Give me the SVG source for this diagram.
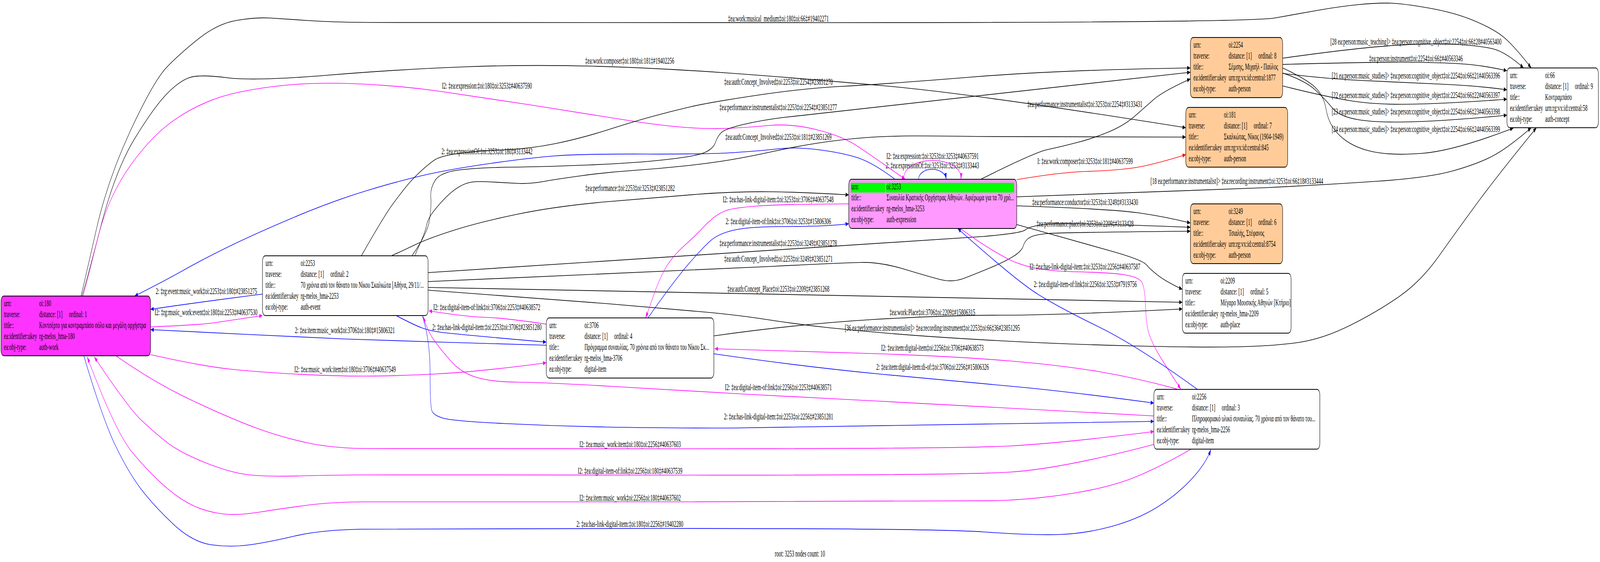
<svg xmlns="http://www.w3.org/2000/svg" width="7961" height="1439" viewBox="0 0 7961 1439" preserveAspectRatio="none" style="width:100vw;height:100vh">
<style>
text{font-family:"Liberation Serif","Times New Roman",serif;font-size:23.33px;fill:#000}
.c{text-anchor:middle}
.nb{stroke:#000;stroke-width:2}
.e{fill:none;stroke-width:1.7}
.k{stroke:#000;marker-end:url(#ak)}
.b{stroke:#0000ff;marker-end:url(#ab)}
.m{stroke:#ff00ff;marker-end:url(#am)}
.r{stroke:#ff0000;marker-end:url(#ar)}
.w{fill:#ffffff}.p1{fill:#ff33ff}.p2{fill:#ff99ff}.o{fill:#ffcc99}.g{fill:#00ff00}
</style>
<defs>
<marker id="ak" viewBox="0 0 16 11" refX="16" refY="5.5" markerWidth="16" markerHeight="11" markerUnits="userSpaceOnUse" orient="auto"><path d="M0,0 L16,5.5 L0,11 z" fill="#000"/></marker>
<marker id="ab" viewBox="0 0 16 11" refX="16" refY="5.5" markerWidth="16" markerHeight="11" markerUnits="userSpaceOnUse" orient="auto"><path d="M0,0 L16,5.5 L0,11 z" fill="#0000ff"/></marker>
<marker id="am" viewBox="0 0 16 11" refX="16" refY="5.5" markerWidth="16" markerHeight="11" markerUnits="userSpaceOnUse" orient="auto"><path d="M0,0 L16,5.5 L0,11 z" fill="#ff00ff"/></marker>
<marker id="ar" viewBox="0 0 16 11" refX="16" refY="5.5" markerWidth="16" markerHeight="11" markerUnits="userSpaceOnUse" orient="auto"><path d="M0,0 L16,5.5 L0,11 z" fill="#ff0000"/></marker>
</defs>
<rect x="0" y="0" width="7961" height="1439" fill="#ffffff"/>
<g id="edges">
<g id="e1"><path class="e k" d="M403,758 Q421,720 478.5,589.5 Q536,459 650.5,333 Q765,207 829,172.5 Q893,138 988.5,99 Q1084,60 1180,52 Q1276,44 1339.5,46 Q1403,48 1530.5,52.5 Q1658,57 1829,57.5 Q2000,58 4108,58 Q6216,58 6343.5,46 Q6471,34 6573,25 Q6675,16 6764.5,11.5 Q6854,7 6917.5,8 Q6981,9 7108.5,20.5 Q7236,32 7332,52.5 Q7428,73 7479,94 Q7530,115 7619,174"/><text class="c" x="3873" y="55">‡ea:work:musical_medium‡oi:180‡oi:66‡#19402271</text></g>
<g id="e2"><path class="e k" d="M408,758 Q431,720 502.5,578 Q574,436 669.5,355.5 Q765,275 829,241 Q893,207 944,198.5 Q995,190 1129,199 Q1263,208 1631.5,192.5 Q2000,177 2319,171 Q2638,165 2957,169.5 Q3276,174 3638,187.5 Q4000,201 4427.5,221 Q4855,241 5900,327"/><text class="c" x="3133" y="163">‡ea:work:composer‡oi:180‡oi:181‡#19402256</text></g>
<g id="e3"><path class="e m" d="M413,758 Q434,720 485,612.5 Q536,505 650.5,422.5 Q765,340 892.5,298.5 Q1020,257 1148,241 Q1276,225 1435,217.5 Q1594,210 1797,215 Q2000,220 2191.5,234 Q2383,248 2638,268.5 Q2893,289 3084.5,305 Q3276,321 3403.5,326 Q3531,331 3630.5,328.5 Q3730,326 3833,321 Q3936,316 4062.5,332 Q4189,348 4265.5,374 Q4342,400 4504,459"/><text class="c" x="2423" y="227">I2: ‡ea:expression:‡oi:180‡oi:3253‡#40637590</text></g>
<g id="e4"><path class="e m" d="M749,837 Q1000,832 1071.5,826 Q1143,820 1306,808"/><text class="c" x="1025" y="807">I2: ‡rg:music_work:event‡oi:180‡oi:2253‡#40637530</text></g>
<g id="e5"><path class="e m" d="M749,908 Q1000,937 1143.5,945 Q1287,953 1478.5,958 Q1670,963 1813.5,963 Q1957,963 2170,957.5 Q2383,952 2718,929"/><text class="c" x="1717" y="953">I2: ‡ea:music_work:item‡oi:180‡oi:3706‡#40637549</text></g>
<g id="e6"><path class="e m" d="M577,911 Q765,979 956.5,1025.5 Q1148,1072 1275.5,1096 Q1403,1120 1530.5,1134 Q1658,1148 1829,1148.5 Q2000,1149 3382.5,1149 Q4765,1149 5020.5,1142 Q5276,1135 5741,1105"/><text class="c" x="3135" y="1145">I2: ‡ea:music_work:item‡oi:180‡oi:2256‡#40637603</text></g>
<g id="e7"><path class="e b" d="M417,911 Q510,1072 574,1140.5 Q638,1209 701.5,1252 Q765,1295 861,1341.5 Q957,1388 1052.5,1395 Q1148,1402 1243.5,1395 Q1339,1388 1466.5,1372.5 Q1594,1357 1797,1355 Q2000,1353 3319,1353 Q4638,1353 4893,1362 Q5148,1371 5275.5,1368.5 Q5403,1366 5530.5,1348 Q5658,1330 5753.5,1300 Q5849,1270 5924.5,1229 Q6000,1188 6025,1151"/><text class="c" x="3134" y="1349">2: ‡ea:has-link-digital-item:‡oi:180‡oi:2256‡#19402280</text></g>
<g id="e8"><path class="e b" d="M4453,459 Q4342,416 4265.5,403.5 Q4189,391 4074,383.5 Q3959,376 3872.5,381 Q3786,386 3658.5,390.5 Q3531,395 3212,394.5 Q2893,394 2765.5,399 Q2638,404 2446.5,418 Q2255,432 2127.5,446.5 Q2000,461 1829,487.5 Q1658,514 1467,555.5 Q1276,597 1148,629 Q1020,661 918,690.5 Q816,720 670,758"/><text class="c" x="2423" y="395">2: ‡ea:expressionOf:‡oi:3253‡oi:180‡#3133442</text></g>
<g id="e9"><path class="e b" d="M1306,753 Q1000,773 749,792"/><text class="c" x="1027" y="753">2: ‡rg:event:music_work‡oi:2253‡oi:180‡#23851275</text></g>
<g id="e10"><path class="e b" d="M2718,884 Q2500,880 2228.5,876.5 Q1957,873 1717.5,868 Q1478,863 1239,856.5 Q1000,850 749,844"/><text class="c" x="1716" y="853">2: ‡ea:item:music_work‡oi:3706‡oi:180‡#15806321</text></g>
<g id="e11"><path class="e m" d="M5741,1138 Q5276,1201 5020.5,1209 Q4765,1217 3382.5,1216.5 Q2000,1216 1829,1216 Q1658,1216 1498.5,1218.5 Q1339,1221 1243.5,1216 Q1148,1211 1020.5,1184.5 Q893,1158 829,1132 Q765,1106 701.5,1075 Q638,1044 469,914"/><text class="c" x="3135" y="1213">I2: ‡ea:digital-item-of:link‡oi:2256‡oi:180‡#40637539</text></g>
<g id="e12"><path class="e m" d="M5926,1150 Q5786,1192 5658.5,1219.5 Q5531,1247 5339.5,1263 Q5148,1279 4956.5,1282 Q4765,1285 3382.5,1285 Q2000,1285 1829,1285 Q1658,1285 1530.5,1293.5 Q1403,1302 1288,1311.5 Q1173,1321 1096.5,1315 Q1020,1309 956.5,1293.5 Q893,1278 816.5,1243.5 Q740,1209 657,1157.5 Q574,1106 434,914"/><text class="c" x="3135" y="1282">I2: ‡ea:item:music_work‡oi:2256‡oi:180‡#40637602</text></g>
<g id="e13"><path class="e k" d="M1798,655 Q1913,551 1956.5,521 Q2000,491 2025.5,475 Q2051,459 2089.5,440.5 Q2128,422 2159.5,410.5 Q2191,399 2287,392.5 Q2383,386 2510.5,383.5 Q2638,381 2765.5,367.5 Q2893,354 3020.5,333 Q3148,312 3243.5,298.5 Q3339,285 3435,273.5 Q3531,262 3765.5,244 Q4000,226 4191.5,221 Q4383,216 4829.5,197.5 Q5276,179 5923,174"/><text class="c" x="3873" y="217">‡ea:auth:Concept_Involved‡oi:2253‡oi:2254‡#23851270</text></g>
<g id="e14"><path class="e k" d="M2051,654 Q2128,597 2137.5,562.5 Q2147,528 2143.5,505 Q2140,482 2165.5,461.5 Q2191,441 2287,435 Q2383,429 2542.5,428 Q2702,427 2925,422.5 Q3148,418 3307.5,409 Q3467,400 3508.5,390 Q3550,380 3559.5,365 Q3569,350 3588,340 Q3607,330 3696.5,319 Q3786,308 3893,301 Q4000,294 5923,185"/><text class="c" x="3872" y="282">‡ea:performance:instrumentalist‡oi:2253‡oi:2254‡#23851277</text></g>
<g id="e15"><path class="e k" d="M2064,654 Q2115,597 2121.5,578.5 Q2128,560 2159.5,539.5 Q2191,519 2223,503 Q2255,487 2287,477.5 Q2319,468 2351,466 Q2383,464 2446.5,466 Q2510,468 2574,469.5 Q2638,471 2701.5,465 Q2765,459 2892.5,450 Q3020,441 3148,436.5 Q3276,432 3403.5,425 Q3531,418 3630.5,409.5 Q3730,401 3844.5,388 Q3959,375 4074,366 Q4189,357 4303.5,352.5 Q4418,348 4559,348 Q4700,348 4860,349.5 Q5020,351 5900,351"/><text class="c" x="3873" y="358">‡ea:auth:Concept_Involved‡oi:2253‡oi:181‡#23851269</text></g>
<g id="e16"><path class="e k" d="M1951,654 Q2000,643 2064,627 Q2128,611 2255.5,590 Q2383,569 2574,548.5 Q2765,528 3020.5,516.5 Q3276,505 3467,497.5 Q3658,490 3829,491 Q4000,492 4223,499"/><text class="c" x="3135" y="489">‡ea:performance:‡oi:2253‡oi:3253‡#23851282</text></g>
<g id="e17"><path class="e k" d="M2130,698 Q4700,614 4892,605.5 Q5084,597 5102,588.5 Q5120,580 5198,574.5 Q5276,569 5923,582"/><text class="c" x="3872" y="630">‡ea:performance:instrumentalist‡oi:2253‡oi:3249‡#23851278</text></g>
<g id="e18"><path class="e k" d="M2130,721 Q3500,691 3844.5,682 Q4189,673 4286,672 Q4383,671 4501.5,689.5 Q4620,708 4680,716 Q4740,724 4800,712 Q4860,700 4930,685 Q5000,670 5042,656.5 Q5084,643 5092,629 Q5100,615 5124,608 Q5148,601 5212,598 Q5276,595 5923,592"/><text class="c" x="3873" y="670">‡ea:auth:Concept_Involved‡oi:2253‡oi:3249‡#23851271</text></g>
<g id="e19"><path class="e k" d="M2130,736 Q4000,754 5883,774"/><text class="c" x="3873" y="747">‡ea:auth:Concept_Place‡oi:2253‡oi:2209‡#23851268</text></g>
<g id="e20"><path class="e k" d="M2130,743 Q2765,766 3020.5,777.5 Q3276,789 3462.5,797 Q3649,805 3806.5,817.5 Q3964,830 4096.5,837.5 Q4229,845 4433.5,854 Q4638,863 4957,872 Q5276,881 5618.5,885.5 Q5961,890 6152.5,888 Q6344,886 6465,876.5 Q6586,867 6720,832.5 Q6854,798 6962.5,759 Q7071,720 7160.5,655 Q7250,590 7350,520 Q7450,450 7645,327"/><text class="c" x="4639" y="847">[36 ea:performance:instrumentalist]&gt; ‡ea:recording:instrument‡oi:2253‡oi:66‡36#23851295</text></g>
<g id="e21"><path class="e b" d="M1971,808 Q2060,832 2099,839.5 Q2138,847 2196.5,851 Q2255,855 2718,876"/><text class="c" x="2423" y="845">2: ‡ea:has-link-digital-item:‡oi:2253‡oi:3706‡#23851280</text></g>
<g id="e22"><path class="e b" d="M2102,809 Q2140,871 2140,956 Q2140,1041 2149.5,1052.5 Q2159,1064 2207,1071 Q2255,1078 2510,1084.5 Q2765,1091 3020.5,1093.5 Q3276,1096 3638,1096 Q4000,1096 5741,1079"/><text class="c" x="3874" y="1074">2: ‡ea:has-link-digital-item:‡oi:2253‡oi:2256‡#23851281</text></g>
<g id="e23"><path class="e m" d="M2718,830 Q2510,814 2414.5,812.5 Q2319,811 2134,796"/><text class="c" x="2422" y="794">I2: ‡ea:digital-item-of:link‡oi:3706‡oi:2253‡#40638572</text></g>
<g id="e24"><path class="e m" d="M5741,1065 Q4700,1035 4350,1026.5 Q4000,1018 3700,1009 Q3400,1000 3051,989.5 Q2702,979 2574,978.5 Q2446,978 2369.5,966 Q2293,954 2242,924 Q2191,894 2159.5,871 Q2128,848 2105,810"/><text class="c" x="3873" y="999">I2: ‡ea:digital-item-of:link‡oi:2256‡oi:2253‡#40638571</text></g>
<g id="e25"><path class="e m" d="M4223,522 Q3883,523 3768,527.5 Q3653,532 3616.5,538.5 Q3580,545 3550,557.5 Q3520,570 3493.5,585 Q3467,600 3403,630 Q3339,660 3307.5,690 Q3276,720 3250,759 Q3224,798 3212,814"/><text class="c" x="3872" y="518">I2: ‡ea:has-link-digital-item:‡oi:3253‡oi:3706‡#40637548</text></g>
<g id="e26"><path class="e b" d="M3224,814 Q3352,720 3426,676 Q3500,632 3538.5,615 Q3577,598 3653.5,589 Q3730,580 3921,580 Q4112,580 4223,573"/><text class="c" x="3873" y="574">2: ‡ea:digital-item-of:link‡oi:3706‡oi:3253‡#15806306</text></g>
<g id="e27"><path class="e m" d="M4497,459 C4490,395 4790,395 4781,459"/><text class="c" x="4640" y="407">I2: ‡ea:expression:‡oi:3253‡oi:3253‡#40637591</text></g>
<g id="e28"><path class="e b" d="M4570,459 C4575,425 4700,425 4708,459"/><text class="c" x="4639" y="431">2: ‡ea:expressionOf:‡oi:3253‡oi:3253‡#3133443</text></g>
<g id="e29"><path class="e k" d="M4880,459 Q5148,390 5212,383 Q5276,376 5358.5,365 Q5441,354 5517.5,337.5 Q5594,321 5645,298 Q5696,275 5741,254.5 Q5786,234 5923,202"/><text class="c" x="5398" y="274">‡ea:performance:instrumentalist‡oi:3253‡oi:2254‡#3133431</text></g>
<g id="e30"><path class="e r" d="M5059,460 Q5276,441 5403,439 Q5530,437 5625,431 Q5720,425 5900,396"/><text class="c" x="5399" y="420">I: ‡ea:work:composer‡oi:3253‡oi:181‡#40637599</text></g>
<g id="e31"><path class="e k" d="M5059,504 Q6000,488 6299.5,480.5 Q6599,473 6854,464 Q7109,455 7229.5,437.5 Q7350,420 7425,400 Q7500,380 7619,327"/><text class="c" x="6154" y="471">[18 ea:performance:instrumentalist]&gt; ‡ea:recording:instrument‡oi:3253‡oi:66‡18#3133444</text></g>
<g id="e32"><path class="e k" d="M5059,527 Q5531,535 5665.5,545 Q5800,555 5923,571"/><text class="c" x="5399" y="525">‡ea:performance:conductor‡oi:3253‡oi:3249‡#3133430</text></g>
<g id="e33"><path class="e k" d="M5059,575 Q5403,624 5543.5,645 Q5684,666 5703,677.5 Q5722,689 5760,704.5 Q5798,720 5883,741"/><text class="c" x="5399" y="580">‡ea:performance:place‡oi:3253‡oi:2209‡#3133428</text></g>
<g id="e34"><path class="e m" d="M4778,585 Q4893,629 5007.5,661 Q5122,693 5326.5,695.5 Q5531,698 5594.5,703.5 Q5658,709 5677,719.5 Q5696,730 5699.5,782.5 Q5703,835 5719,857.5 Q5735,880 5760.5,903 Q5786,926 5875,996"/><text class="c" x="5398" y="690">I2: ‡ea:has-link-digital-item:‡oi:3253‡oi:2256‡#40637587</text></g>
<g id="e35"><path class="e b" d="M5958,997 Q5658,885 5467,837 Q5276,789 5167.5,754.5 Q5059,720 4765,585"/><text class="c" x="5400" y="735">2: ‡ea:digital-item-of:link‡oi:2256‡oi:3253‡#7919756</text></g>
<g id="e36"><path class="e k" d="M3552,860 Q3964,830 4332,818.5 Q4700,807 4988,807 Q5276,807 5883,791"/><text class="c" x="4639" y="807">‡ea:work:Place‡oi:3706‡oi:2209‡#15806315</text></g>
<g id="e37"><path class="e m" d="M5856,996 Q5658,968 5467,951.5 Q5276,935 5020.5,924 Q4765,913 4382.5,906 Q4000,899 3556,893"/><text class="c" x="4639" y="898">I2: ‡ea:item:digital-item‡oi:2256‡oi:3706‡#40638573</text></g>
<g id="e38"><path class="e b" d="M3553,906 Q4000,939 4382.5,958 Q4765,977 5020.5,988.5 Q5276,1000 5741,1032"/><text class="c" x="4640" y="947">2: ‡ea:item:digital-item:di-of:‡oi:3706‡oi:2256‡#15806326</text></g>
<g id="e39"><path class="e k" d="M6382,149 Q6726,124 6917.5,117 Q7109,110 7236.5,113.5 Q7364,117 7428,125 Q7492,133 7581,174"/><text class="c" x="7045" y="114">[28 ea:person:music_teaching]&gt; ‡ea:person:cognitive_object‡oi:2254‡oi:66‡28#40563400</text></g>
<g id="e40"><path class="e k" d="M6382,165 Q6854,158 7045.5,159.5 Q7237,161 7319.5,165.5 Q7402,170 7498,181"/><text class="c" x="7045" y="157">‡ea:person:instrument‡oi:2254‡oi:66‡#40563346</text></g>
<g id="e41"><path class="e k" d="M6382,188 Q6599,202 6790,206.5 Q6981,211 7172.5,215.5 Q7364,220 7498,230"/><text class="c" x="7045" y="201">[21 ea:person:music_studies]&gt; ‡ea:person:cognitive_object‡oi:2254‡oi:66‡21#40563396</text></g>
<g id="e42"><path class="e k" d="M6382,220 Q6599,248 6726.5,258.5 Q6854,269 7045.5,266.5 Q7237,264 7498,254"/><text class="c" x="7045" y="251">[22 ea:person:music_studies]&gt; ‡ea:person:cognitive_object‡oi:2254‡oi:66‡22#40563397</text></g>
<g id="e43"><path class="e k" d="M6382,187 Q6497,207 6548,232 Q6599,257 6631,277.5 Q6663,298 6758.5,306.5 Q6854,315 7045.5,311.5 Q7237,308 7498,295"/><text class="c" x="7045" y="293">[23 ea:person:music_studies]&gt; ‡ea:person:cognitive_object‡oi:2254‡oi:66‡23#40563398</text></g>
<g id="e44"><path class="e k" d="M6382,174 Q6497,202 6541.5,222.5 Q6586,243 6599,282 Q6612,321 6669,348.5 Q6726,376 6822,387.5 Q6918,399 7077.5,392.5 Q7237,386 7530,328"/><text class="c" x="7045" y="338">[24 ea:person:music_studies]&gt; ‡ea:person:cognitive_object‡oi:2254‡oi:66‡24#40563399</text></g>
</g>
<g id="n180"><rect class="nb p1" x="5" y="758" width="744" height="153" rx="14"/>
<text x="20" y="784">urn:</text><text x="195" y="784">oi:180</text>
<text x="20" y="812">traverse:</text><text x="195" y="812">distance: [1]</text><text x="343" y="812">ordinal: 1</text>
<text x="20" y="840">title::</text><text x="195" y="840">Κοντσέρτο για κοντραμπάσο σόλο και μεγάλη ορχήστρα</text>
<text x="20" y="868">ea:identifier:ukey</text><text x="195" y="868">rg-melos_hma-180</text>
<text x="20" y="896">ea:obj-type:</text><text x="195" y="896">auth-work</text></g>
<g id="n2253"><rect class="nb w" x="1306" y="655" width="824" height="153" rx="14"/>
<text x="1321" y="681">urn:</text><text x="1496" y="681">oi:2253</text>
<text x="1321" y="709">traverse:</text><text x="1496" y="709">distance: [1]</text><text x="1644" y="709">ordinal: 2</text>
<text x="1321" y="737">title::</text><text x="1496" y="737">70 χρόνια από τον θάνατο του Νίκου Σκαλκώτα [Αθήνα, 29/11/...</text>
<text x="1321" y="765">ea:identifier:ukey</text><text x="1496" y="765">rg-melos_hma-2253</text>
<text x="1321" y="793">ea:obj-type:</text><text x="1496" y="793">auth-event</text></g>
<g id="n3706"><rect class="nb w" x="2718" y="814" width="834" height="154" rx="14"/>
<text x="2733" y="840">urn:</text><text x="2908" y="840">oi:3706</text>
<text x="2733" y="868">traverse:</text><text x="2908" y="868">distance: [1]</text><text x="3056" y="868">ordinal: 4</text>
<text x="2733" y="896">title::</text><text x="2908" y="896">Πρόγραμμα συναυλίας. 70 χρόνια από τον θάνατο του Νίκου Σκ...</text>
<text x="2733" y="924">ea:identifier:ukey</text><text x="2908" y="924">rg-melos_hma-3706</text>
<text x="2733" y="952">ea:obj-type:</text><text x="2908" y="952">digital-item</text></g>
<g id="n3253"><rect class="nb p2" x="4223" y="459" width="836" height="126" rx="14"/>
<rect class="g" x="4233" y="468" width="172" height="25"/><rect class="g" x="4408" y="468" width="638" height="25"/>
<text x="4236" y="485">urn:</text><text x="4411" y="485">oi:3253</text>
<text x="4236" y="513">title::</text><text x="4411" y="513">Συναυλία Κρατικής Ορχήστρας Αθηνών. Αφιέρωμα για τα 70 χρό...</text>
<text x="4236" y="541">ea:identifier:ukey</text><text x="4411" y="541">rg-melos_hma-3253</text>
<text x="4236" y="569">ea:obj-type:</text><text x="4411" y="569">auth-expression</text></g>
<g id="n2254"><rect class="nb o" x="5923" y="96" width="459" height="154" rx="14"/>
<text x="5938" y="122">urn:</text><text x="6113" y="122">oi:2254</text>
<text x="5938" y="150">traverse:</text><text x="6113" y="150">distance: [1]</text><text x="6261" y="150">ordinal: 8</text>
<text x="5938" y="178">title::</text><text x="6113" y="178">Σέμσης, Μιχαήλ - Παύλος</text>
<text x="5938" y="206">ea:identifier:ukey</text><text x="6113" y="206">urn:rg:vx:id:central:1877</text>
<text x="5938" y="234">ea:obj-type:</text><text x="6113" y="234">auth-person</text></g>
<g id="n181"><rect class="nb o" x="5900" y="275" width="507" height="153" rx="14"/>
<text x="5915" y="301">urn:</text><text x="6090" y="301">oi:181</text>
<text x="5915" y="329">traverse:</text><text x="6090" y="329">distance: [1]</text><text x="6238" y="329">ordinal: 7</text>
<text x="5915" y="357">title::</text><text x="6090" y="357">Σκαλκώτας, Νίκος (1904-1949)</text>
<text x="5915" y="385">ea:identifier:ukey</text><text x="6090" y="385">urn:rg:vx:id:central:845</text>
<text x="5915" y="413">ea:obj-type:</text><text x="6090" y="413">auth-person</text></g>
<g id="n3249"><rect class="nb o" x="5923" y="522" width="459" height="153" rx="14"/>
<text x="5938" y="548">urn:</text><text x="6113" y="548">oi:3249</text>
<text x="5938" y="576">traverse:</text><text x="6113" y="576">distance: [1]</text><text x="6261" y="576">ordinal: 6</text>
<text x="5938" y="604">title::</text><text x="6113" y="604">Τσιαλής, Στέφανος</text>
<text x="5938" y="632">ea:identifier:ukey</text><text x="6113" y="632">urn:rg:vx:id:central:8754</text>
<text x="5938" y="660">ea:obj-type:</text><text x="6113" y="660">auth-person</text></g>
<g id="n2209"><rect class="nb w" x="5883" y="700" width="541" height="153" rx="14"/>
<text x="5898" y="726">urn:</text><text x="6073" y="726">oi:2209</text>
<text x="5898" y="754">traverse:</text><text x="6073" y="754">distance: [1]</text><text x="6221" y="754">ordinal: 5</text>
<text x="5898" y="782">title::</text><text x="6073" y="782">Μέγαρο Μουσικής Αθηνών [Κτήριο]</text>
<text x="5898" y="810">ea:identifier:ukey</text><text x="6073" y="810">rg-melos_hma-2209</text>
<text x="5898" y="838">ea:obj-type:</text><text x="6073" y="838">auth-place</text></g>
<g id="n2256"><rect class="nb w" x="5741" y="997" width="826" height="153" rx="14"/>
<text x="5756" y="1023">urn:</text><text x="5931" y="1023">oi:2256</text>
<text x="5756" y="1051">traverse:</text><text x="5931" y="1051">distance: [1]</text><text x="6079" y="1051">ordinal: 3</text>
<text x="5756" y="1079">title::</text><text x="5931" y="1079">Πληροφοριακό υλικό συναυλίας. 70 χρόνια από τον θάνατο του...</text>
<text x="5756" y="1107">ea:identifier:ukey</text><text x="5931" y="1107">rg-melos_hma-2256</text>
<text x="5756" y="1135">ea:obj-type:</text><text x="5931" y="1135">digital-item</text></g>
<g id="n66"><rect class="nb w" x="7498" y="174" width="455" height="153" rx="14"/>
<text x="7513" y="200">urn:</text><text x="7688" y="200">oi:66</text>
<text x="7513" y="228">traverse:</text><text x="7688" y="228">distance: [1]</text><text x="7836" y="228">ordinal: 9</text>
<text x="7513" y="256">title::</text><text x="7688" y="256">Κοντραμπάσο</text>
<text x="7513" y="284">ea:identifier:ukey</text><text x="7688" y="284">urn:rg:vx:id:central:58</text>
<text x="7513" y="312">ea:obj-type:</text><text x="7688" y="312">auth-concept</text></g>
<text class="c" x="3980" y="1425">root: 3253 nodes count: 10</text>
</svg>
